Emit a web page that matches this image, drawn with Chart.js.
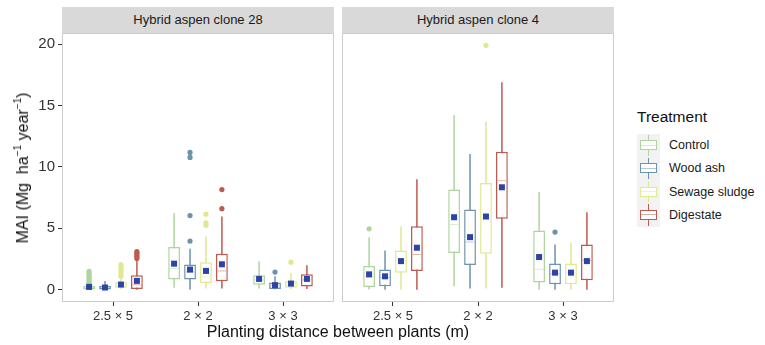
<!DOCTYPE html>
<html>
<head>
<meta charset="utf-8">
<script src="https://cdn.jsdelivr.net/npm/chart.js@4.4.1/dist/chart.umd.min.js"></script>
<style>
  html, body { margin: 0; padding: 0; background: #fff; }
  body {
    width: 765px; height: 345px; position: relative; overflow: hidden;
    font-family: "Liberation Sans", Arial, sans-serif; color: #1a1a1a;
  }
  .abs { position: absolute; }
  canvas { position: absolute; top: 0; }
  .strip {
    top: 7px; width: 272px; height: 26px; background: #d9d9d9;
    text-align: center; line-height: 26px; font-size: 13px; color: #1a1a1a;
  }
  .axis-title { font-size: 16px; white-space: nowrap; color: #111; }
  .axis-title sup { font-size: 10px; line-height: 0; position: relative; top: -1px; }
  .legend { left: 637px; top: 106px; }
  .legend-title { font-size: 15.5px; line-height: 22px; margin-bottom: 5.5px; color: #111; }
  .legend-row { display: flex; align-items: center; height: 23.3px; }
  .legend-key { position: relative; width: 23px; height: 100%; background: #f2f2f2; }
  .legend-key .whisker { position: absolute; left: 11px; width: 1.3px; top: 1px; bottom: 1px; }
  .legend-key .box {
    position: absolute; left: 3px; right: 3px; top: 6.5px; height: 10px;
    box-sizing: border-box; border: 1.3px solid; background: #fff;
  }
  .legend-key .median { position: absolute; left: 0; right: 0; top: 3.5px; height: 1px; opacity: 0.5; }
  .legend-label { margin-left: 9px; font-size: 12.5px; color: #1a1a1a; }
</style>
</head>
<body>
<canvas id="clone28" width="336" height="345" style="left:0"></canvas>
<canvas id="clone4" width="276" height="345" style="left:340px"></canvas>

<div class="abs strip" style="left:62px">Hybrid aspen clone 28</div>
<div class="abs strip" style="left:342px">Hybrid aspen clone 4</div>

<div class="abs axis-title" style="left:23px; top:168px; transform:translate(-50%,-50%) rotate(-90deg)">
  MAI (Mg&nbsp; ha<sup>−1</sup> year<sup>−1</sup>)
</div>
<div class="abs axis-title" style="left:338px; top:332px; transform:translate(-50%,-50%)">
  Planting distance between plants (m)
</div>

<div class="abs legend" id="legend">
  <div class="legend-title">Treatment</div>
</div>

<script>
const CATEGORIES = ['2.5 × 5', '2 × 2', '3 × 3'];
const TREATMENTS = ['Control', 'Wood ash', 'Sewage sludge', 'Digestate'];
const Y_TICKS = [0, 5, 10, 15, 20];

// Box summaries per treatment: [lower whisker, Q1, median, Q3, upper whisker] for each spacing
const clone28Boxes = [
  [[0, 0.02, 0.12, 0.3, 0.38], [0.15, 0.83, 1.72, 3.47, 6.24], [0.1, 0.41, 0.8, 1.17, 2.31]],
  [[0, 0.02, 0.1, 0.3, 0.7], [0, 0.83, 1.45, 2.05, 3.34], [0.02, 0.05, 0.36, 0.58, 1.1]],
  [[0.05, 0.17, 0.3, 0.6, 0.9], [0.1, 0.54, 1.04, 2.24, 4.34], [0.05, 0.15, 0.35, 0.69, 1.36]],
  [[0, 0.05, 0.4, 1.18, 2.34], [0.1, 0.68, 1.53, 2.92, 5.96], [0.05, 0.27, 0.8, 1.25, 2.0]]
];
const clone28Means = [
  [0.23, 2.12, 0.88],
  [0.18, 1.64, 0.37],
  [0.42, 1.53, 0.5],
  [0.72, 2.07, 0.88]
];
const clone28Outliers = [
  [[0.45, 0.6, 0.75, 0.9, 1.05, 1.2, 1.35, 1.5], [], []],
  [[], [3.96, 6.04, 10.77, 11.18], [1.44]],
  [[1.1, 1.3, 1.5, 1.7, 1.9, 2.05], [5.25, 5.45, 6.15], [2.24]],
  [[2.55, 2.7, 2.85, 3.0, 3.1], [6.6, 8.15], []]
];

const clone4Boxes = [
  [[0.01, 0.23, 1.04, 1.93, 4.28], [0.28, 2.98, 5.31, 8.15, 14.2], [0, 0.58, 1.66, 4.83, 7.96]],
  [[0, 0.28, 1.0, 1.64, 3.2], [0.09, 2.01, 3.88, 6.53, 11.04], [0, 0.44, 1.3, 2.13, 3.69]],
  [[0, 1.39, 2.39, 3.2, 5.15], [0.09, 2.93, 5.8, 8.69, 13.7], [0, 0.44, 1.35, 2.13, 3.85]],
  [[0, 1.53, 2.87, 5.17, 9.0], [0.17, 5.77, 8.88, 11.24, 16.9], [0, 0.77, 2.39, 3.69, 6.3]]
];
const clone4Means = [
  [1.25, 5.9, 2.66],
  [1.09, 4.28, 1.39],
  [2.33, 5.96, 1.39],
  [3.42, 8.34, 2.33]
];
const clone4Outliers = [
  [[4.96], [], []],
  [[], [], [4.69]],
  [[], [19.9], []],
  [[], [], []]
];

const TREATMENT_COLORS = ['#aed59f', '#6c93ab', '#e0e890', '#bd5a50'];
const MEAN_COLOR = '#2c43a8';
const TICK_COLOR = '#333333';

Chart.defaults.font.family = '"Liberation Sans", Arial, sans-serif';

// whiskers go under the white boxes; medians, outliers and means on top
const boxplotPlugin = {
  id: 'boxplot',
  beforeDatasetsDraw(chart) {
    const { ctx } = chart;
    const y = chart.scales.y;
    chart.data.datasets.forEach((ds, i) => {
      const meta = chart.getDatasetMeta(i);
      ctx.save();
      ctx.strokeStyle = ds.borderColor;
      ctx.lineWidth = 1.5;
      meta.data.forEach((bar, j) => {
        const s = ds.boxStats[j];
        ctx.beginPath();
        ctx.moveTo(bar.x, y.getPixelForValue(s[0]));
        ctx.lineTo(bar.x, y.getPixelForValue(s[4]));
        ctx.stroke();
      });
      ctx.restore();
    });
  },
  afterDatasetsDraw(chart) {
    const { ctx } = chart;
    const y = chart.scales.y;
    chart.data.datasets.forEach((ds, i) => {
      const meta = chart.getDatasetMeta(i);
      meta.data.forEach((bar, j) => {
        const half = bar.width / 2;
        const med = y.getPixelForValue(ds.boxStats[j][2]);
        ctx.save();
        ctx.globalAlpha = 0.45;
        ctx.strokeStyle = ds.borderColor;
        ctx.lineWidth = 1;
        ctx.beginPath();
        ctx.moveTo(bar.x - half + 1.5, med);
        ctx.lineTo(bar.x + half - 1.5, med);
        ctx.stroke();
        ctx.restore();

        ctx.save();
        ctx.fillStyle = ds.borderColor;
        ds.outliers[j].forEach(v => {
          ctx.beginPath();
          ctx.arc(bar.x, y.getPixelForValue(v), 2.6, 0, Math.PI * 2);
          ctx.fill();
        });
        ctx.restore();
      });
    });
    chart.data.datasets.forEach((ds, i) => {
      const meta = chart.getDatasetMeta(i);
      ctx.save();
      ctx.fillStyle = MEAN_COLOR;
      meta.data.forEach((bar, j) => {
        const py = y.getPixelForValue(ds.means[j]);
        ctx.fillRect(bar.x - 3, py - 3, 6, 6);
      });
      ctx.restore();
    });
  },
  afterDraw(chart) {
    const { ctx, chartArea: a } = chart;
    ctx.save();
    ctx.strokeStyle = '#cccccc';
    ctx.lineWidth = 1;
    ctx.strokeRect(a.left + 0.5, a.top + 0.5, a.right - a.left - 1, a.bottom - a.top - 1);
    ctx.restore();
  }
};

function makeFacet(canvasId, boxes, means, outliers, showY, padding) {
  const datasets = TREATMENTS.map((name, t) => ({
    label: name,
    data: boxes[t].map((s, j) => ({ x: j + 1, y: [s[1], s[3]] })),
    boxStats: boxes[t],
    means: means[t],
    outliers: outliers[t],
    backgroundColor: '#ffffff',
    borderColor: TREATMENT_COLORS[t],
    borderWidth: 1.5,
    borderSkipped: false,
    categoryPercentage: 0.75,
    barPercentage: 0.74
  }));

  const tickGrid = {
    offset: false,
    drawOnChartArea: false,
    drawTicks: true,
    tickLength: 4,
    color: TICK_COLOR,
    lineWidth: 1
  };

  return new Chart(document.getElementById(canvasId), {
    type: 'bar',
    data: { datasets },
    options: {
      responsive: false,
      animation: false,
      events: [],
      layout: { padding },
      plugins: { legend: { display: false }, tooltip: { enabled: false } },
      scales: {
        x: {
          type: 'linear',
          min: 0.4,
          max: 3.6,
          offset: false,
          grid: tickGrid,
          border: { display: false },
          ticks: {
            color: TICK_COLOR,
            font: { size: 13 },
            padding: 3,
            autoSkip: false,
            maxRotation: 0,
            callback: v => CATEGORIES[v - 1] ?? ''
          },
          afterBuildTicks: axis => { axis.ticks = CATEGORIES.map((_, i) => ({ value: i + 1 })); },
          afterFit: axis => { axis.height = 43; }
        },
        y: {
          type: 'linear',
          display: showY,
          min: -1,
          max: 20.9,
          grid: tickGrid,
          border: { display: false },
          ticks: { color: TICK_COLOR, font: { size: 15 }, padding: 3 },
          afterBuildTicks: axis => { axis.ticks = Y_TICKS.map(v => ({ value: v })); },
          afterFit: axis => { axis.width = showY ? 62 : 0; }
        }
      }
    },
    plugins: [boxplotPlugin]
  });
}

makeFacet('clone28', clone28Boxes, clone28Means, clone28Outliers, true, { top: 33, right: 2, left: 0, bottom: 0 });
makeFacet('clone4', clone4Boxes, clone4Means, clone4Outliers, false, { top: 33, right: 2, left: 2, bottom: 0 });

// treatment legend with small boxplot keys
const legend = document.getElementById('legend');
TREATMENTS.forEach((name, t) => {
  const c = TREATMENT_COLORS[t];
  const row = document.createElement('div');
  row.className = 'legend-row';
  row.innerHTML =
    `<div class="legend-key">` +
      `<div class="whisker" style="background:${c}"></div>` +
      `<div class="box" style="border-color:${c}"><div class="median" style="background:${c}"></div></div>` +
    `</div>` +
    `<span class="legend-label"></span>`;
  row.querySelector('.legend-label').textContent = name;
  legend.appendChild(row);
});
</script>
</body>
</html>
